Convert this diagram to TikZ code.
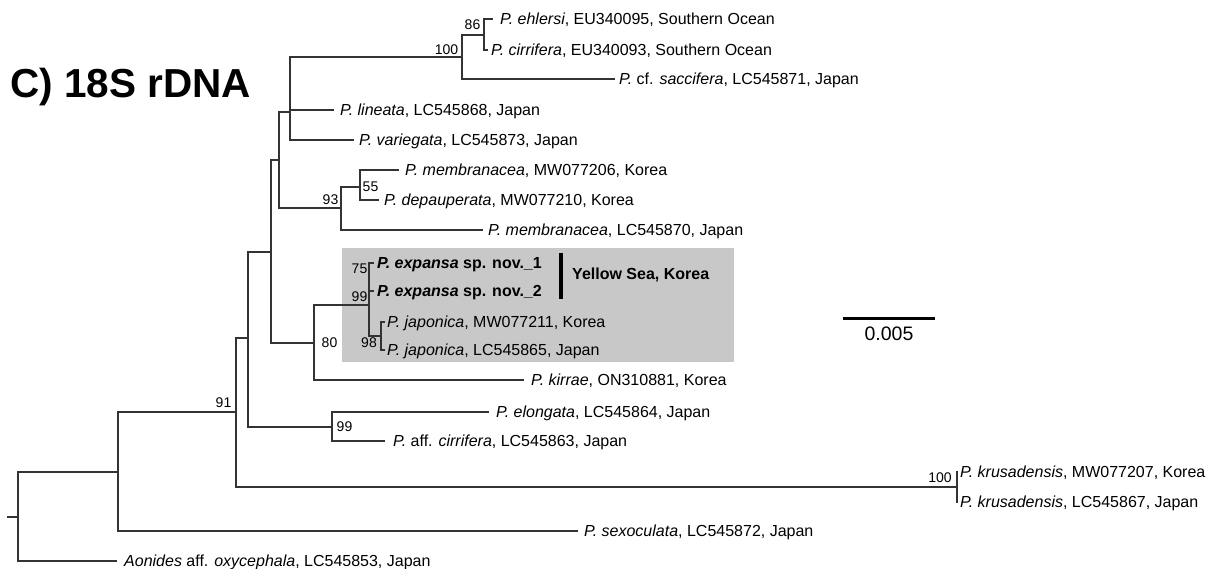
\documentclass[tikz,border=0pt]{standalone}
\usepackage{fontspec}
\setmainfont{Liberation Sans}
\definecolor{boxgray}{RGB}{200,200,200}
\begin{document}
\begin{tikzpicture}[x=1pt,y=-1pt,
  br/.style={line width=1.1pt, black!80, line cap=rect},
  tip/.style={anchor=west, inner xsep=0pt, inner ysep=0pt, text height=11.5pt, text depth=0pt, font=\fontsize{16}{16}\selectfont},
  bs/.style={inner sep=0pt, font=\fontsize{14}{14}\selectfont},
]
\useasboundingbox (0,0) rectangle (1215,569);
% highlighted box
\fill[boxgray] (342,248) rectangle (734,362);
% title
\node[anchor=base west, inner sep=0pt, font=\fontsize{40.5}{40.5}\selectfont\bfseries] (title) at (10,98) {C) 18S rDNA};

% tips
\node[tip] (t1) at (500,19) {\textit{P. ehlersi}, EU340095, Southern Ocean};
\node[tip] (t2) at (491,50) {\textit{P. cirrifera}, EU340093, Southern Ocean};
\node[tip] (t3) at (619,79) {\textit{P.} cf. \textit{saccifera}, LC545871, Japan};
\node[tip] (t4) at (340,110) {\textit{P. lineata}, LC545868, Japan};
\node[tip] (t5) at (359,140) {\textit{P. variegata}, LC545873, Japan};
\node[tip] (t6) at (405,170) {\textit{P. membranacea}, MW077206, Korea};
\node[tip] (t7) at (384,200) {\textit{P. depauperata}, MW077210, Korea};
\node[tip] (t8) at (488,230) {\textit{P. membranacea}, LC545870, Japan};
\node[tip] (t9) at (377,263) {\bfseries\textit{P. expansa} sp. nov.\_1};
\node[tip] (t10) at (377,291) {\bfseries\textit{P. expansa} sp. nov.\_2};
\node[tip] (t11) at (387,322) {\textit{P. japonica}, MW077211, Korea};
\node[tip] (t12) at (387,350) {\textit{P. japonica}, LC545865, Japan};
\node[tip] (t13) at (531,380) {\textit{P. kirrae}, ON310881, Korea};
\node[tip] (t14) at (496,412) {\textit{P. elongata}, LC545864, Japan};
\node[tip] (t15) at (393,441) {\textit{P.} aff. \textit{cirrifera}, LC545863, Japan};
\node[tip] (t16) at (960,472) {\textit{P. krusadensis}, MW077207, Korea};
\node[tip] (t17) at (960,502) {\textit{P. krusadensis}, LC545867, Japan};
\node[tip] (t18) at (584,531) {\textit{P. sexoculata}, LC545872, Japan};
\node[tip] (t19) at (124,561) {\textit{Aonides} aff. \textit{oxycephala}, LC545853, Japan};

% internal nodes
\coordinate (K) at (484,35);
\coordinate (J) at (462,57);
\coordinate (H) at (290,112);
\coordinate (L) at (360,187);
\coordinate (I) at (341,208);
\coordinate (F) at (279,160);
\coordinate (N) at (369,277);
\coordinate (O) at (381,336);
\coordinate (M) at (369,305);
\coordinate (G) at (314,343);
\coordinate (D) at (271,252);
\coordinate (E) at (332,427);
\coordinate (C) at (248,338);
\coordinate (B) at (236,412);
\coordinate (Q) at (957,487);
\coordinate (A) at (118,472);
\coordinate (R) at (18,517);
\coordinate (r0) at (8,517);

% branches
\draw[br] (K) |- ([xshift=-8pt]t1.west);
\draw[br] (K) |- ([xshift=-4pt]t2.west);
\draw[br] (J) |- (K);
\draw[br] (J) |- ([xshift=-5pt]t3.west);
\draw[br] (H) |- (J);
\draw[br] (H) |- ([xshift=-7pt]t4.west);
\draw[br] (H) |- ([xshift=-6pt]t5.west);
\draw[br] (L) |- ([xshift=-7pt]t6.west);
\draw[br] (L) |- ([xshift=-6pt]t7.west);
\draw[br] (I) |- (L);
\draw[br] (I) |- ([xshift=-6pt]t8.west);
\draw[br] (F) |- (H);
\draw[br] (F) |- (I);
\draw[br] (N) |- ([xshift=-4pt]t9.west);
\draw[br] (N) |- ([xshift=-4pt]t10.west);
\draw[br] (O) |- ([xshift=-3pt]t11.west);
\draw[br] (O) |- ([xshift=-3pt]t12.west);
\draw[br] (M) |- (N);
\draw[br] (M) |- (O);
\draw[br] (G) |- (M);
\draw[br] (G) |- ([xshift=-8pt]t13.west);
\draw[br] (D) |- (F);
\draw[br] (D) |- (G);
\draw[br] (E) |- ([xshift=-8pt]t14.west);
\draw[br] (E) |- ([xshift=-9pt]t15.west);
\draw[br] (C) |- (D);
\draw[br] (C) |- (E);
\draw[br] (Q) |- ([xshift=-3pt]t16.west);
\draw[br] (Q) |- ([xshift=-3pt]t17.west);
\draw[br] (B) |- (C);
\draw[br] (B) |- (Q);
\draw[br] (A) |- (B);
\draw[br] (A) |- ([xshift=-7pt]t18.west);
\draw[br] (R) |- (A);
\draw[br] (R) |- ([xshift=-8pt]t19.west);
\draw[br] (r0) -- (R);

% bootstrap values
\node[bs] (b86) at (472.5,25) {86};
\node[bs] (b100a) at (446.5,50) {100};
\node[bs] (b55) at (370.5,187) {55};
\node[bs] (b93) at (330.5,200) {93};
\node[bs] (b75) at (359.5,269) {75};
\node[bs] (b99a) at (359.5,297) {99};
\node[bs] (b98) at (369,343) {98};
\node[bs] (b80) at (329.5,343) {80};
\node[bs] (b99b) at (344.5,427) {99};
\node[bs] (b91) at (223.5,403) {91};
\node[bs] (b100b) at (940,478) {100};

% Yellow Sea bar
\coordinate (ys1) at (561,253);
\coordinate (ys2) at (561,299);
\draw[line width=4pt] (ys1) -- (ys2);
\node[tip, font=\fontsize{16}{16}\selectfont\bfseries] (ys) at (572,274) {Yellow Sea, Korea};

% scale bar
\coordinate (s1) at (843,318);
\coordinate (s2) at (935,318);
\draw[line width=3pt] (s1) -- (s2);
\node[inner sep=0pt, font=\fontsize{19.5}{19.5}\selectfont] (sl) at (889,334) {0.005};
\end{tikzpicture}
\end{document}
